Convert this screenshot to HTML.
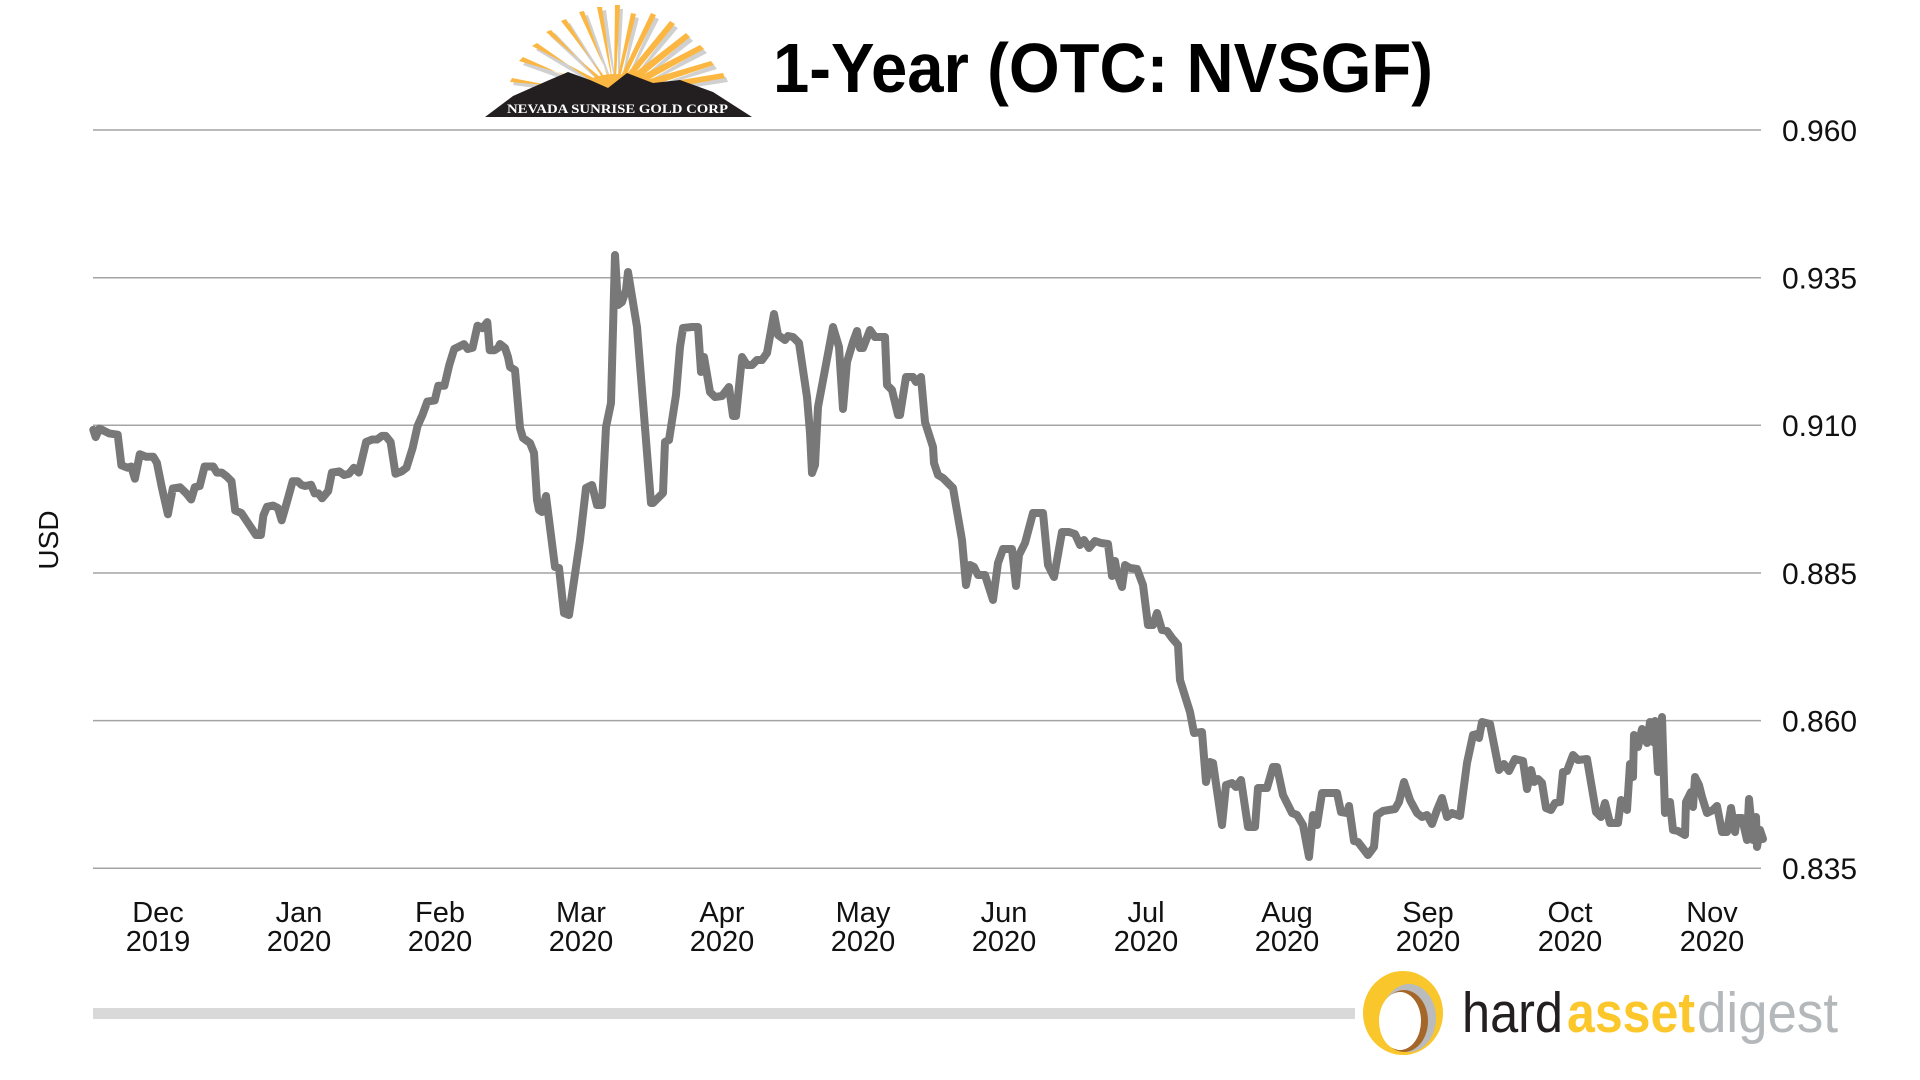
<!DOCTYPE html>
<html>
<head>
<meta charset="utf-8">
<style>
  html,body{margin:0;padding:0;background:#fff;}
  body{width:1920px;height:1080px;overflow:hidden;}
  svg{display:block;}
  text{font-family:"Liberation Sans", Arial, sans-serif;}
</style>
</head>
<body>
<svg width="1920" height="1080" viewBox="0 0 1920 1080" xmlns="http://www.w3.org/2000/svg">
  <rect width="1920" height="1080" fill="#fff"/>

  <!-- Nevada Sunrise logo -->
  <g>
    <g fill="#d0d0d0" transform="translate(3,3)">
      <polygon points="615,96 510,82 512,76"/>
      <polygon points="615,96 520,62 524,57"/>
      <polygon points="615,96 533,47 538,43"/>
      <polygon points="615,96 547,33 552,30"/>
      <polygon points="615,96 562,22 567,20"/>
      <polygon points="615,96 580,13 585,12"/>
      <polygon points="615,96 598,8 603,7"/>
      <polygon points="615,96 615,6 620,6"/>
      <polygon points="615,96 631,14 636,15"/>
      <polygon points="615,96 651,14 656,16"/>
      <polygon points="615,96 670,22 675,25"/>
      <polygon points="615,96 686,34 690,38"/>
      <polygon points="615,96 700,46 704,50"/>
      <polygon points="615,96 711,62 714,66"/>
      <polygon points="615,96 723,74 725,79"/>
    </g>
    <g fill="#fbb741">
      <polygon points="615,98 606,90 510,82 512,78"/>
      <polygon points="615,98 605,86 519,61 523,57"/>
      <polygon points="615,98 605,84 532,46 537,43"/>
      <polygon points="615,98 606,82 546,32 551,30"/>
      <polygon points="615,98 608,81 561,21 566,19"/>
      <polygon points="615,98 610,80 579,12 584,11"/>
      <polygon points="615,98 612,80 597,7 602,7"/>
      <polygon points="615,98 614,80 615,5 620,5"/>
      <polygon points="615,98 617,80 631,13 636,14"/>
      <polygon points="615,98 619,80 651,13 656,15"/>
      <polygon points="615,98 621,81 670,21 675,24"/>
      <polygon points="615,98 623,82 686,33 690,37"/>
      <polygon points="615,98 625,84 700,45 704,49"/>
      <polygon points="615,98 626,86 711,61 714,65"/>
      <polygon points="615,98 626,89 723,73 725,78"/>
      <ellipse cx="615" cy="88" rx="32" ry="14"/>
    </g>
    <path d="M485,117 L513,96 L547,81 L568,72 L590,80 L608,88 L627,73 L653,83 L680,80 L713,92 L752,117 Z" fill="#231f20"/>
    <text x="507" y="113" font-size="13" font-weight="bold" fill="#fff" textLength="221" lengthAdjust="spacingAndGlyphs" style="font-family:'Liberation Serif', serif;">NEVADA SUNRISE GOLD CORP</text>
  </g>

  <!-- Title -->
  <text x="773" y="92" font-size="70" font-weight="bold" fill="#000" textLength="660" lengthAdjust="spacingAndGlyphs">1-Year (OTC: NVSGF)</text>

  <!-- Gridlines -->
  <g stroke="#a4a4a4" stroke-width="1.5">
    <line x1="93" y1="130" x2="1761" y2="130"/>
    <line x1="93" y1="277.7" x2="1761" y2="277.7"/>
    <line x1="93" y1="425.3" x2="1761" y2="425.3"/>
    <line x1="93" y1="573" x2="1761" y2="573"/>
    <line x1="93" y1="720.6" x2="1761" y2="720.6"/>
    <line x1="93" y1="868.3" x2="1761" y2="868.3"/>
  </g>

  <!-- Y labels -->
  <g font-size="30" fill="#111">
    <text x="1782" y="141">0.960</text>
    <text x="1782" y="288.5">0.935</text>
    <text x="1782" y="436">0.910</text>
    <text x="1782" y="584">0.885</text>
    <text x="1782" y="731.5">0.860</text>
    <text x="1782" y="879">0.835</text>
  </g>

  <!-- USD -->
  <text x="0" y="0" font-size="28" fill="#111" text-anchor="middle" transform="translate(58,540) rotate(-90)">USD</text>

  <!-- X labels -->
  <g font-size="29" fill="#111" text-anchor="middle">
    <text x="158" y="922">Dec</text><text x="158" y="951">2019</text>
    <text x="299" y="922">Jan</text><text x="299" y="951">2020</text>
    <text x="440" y="922">Feb</text><text x="440" y="951">2020</text>
    <text x="581" y="922">Mar</text><text x="581" y="951">2020</text>
    <text x="722" y="922">Apr</text><text x="722" y="951">2020</text>
    <text x="863" y="922">May</text><text x="863" y="951">2020</text>
    <text x="1004" y="922">Jun</text><text x="1004" y="951">2020</text>
    <text x="1146" y="922">Jul</text><text x="1146" y="951">2020</text>
    <text x="1287" y="922">Aug</text><text x="1287" y="951">2020</text>
    <text x="1428" y="922">Sep</text><text x="1428" y="951">2020</text>
    <text x="1570" y="922">Oct</text><text x="1570" y="951">2020</text>
    <text x="1712" y="922">Nov</text><text x="1712" y="951">2020</text>
  </g>

  <!-- Price line -->
  <polyline fill="none" stroke="#787878" stroke-width="8" stroke-linejoin="round" stroke-linecap="round" points="
93.3,429.8 95.7,437.1 99.4,428.5 109.2,433.4 117.7,434.7 121.4,465.3 127.5,467.7 131.2,466.5 134.9,478.7 139.8,454.2
145.9,456.7 153.2,456.7 156.9,462.8 161.8,487.3 167.9,514.2 172.8,488.5 180.1,487.3 186.3,493.4 191.2,499.5 194.8,487.3
199.7,486 204.6,466.5 213.2,466.5 216.9,472.6 221.7,472.6 226.6,476.3 231.5,481.2 235.2,510.5 241.3,513 246.2,520.3
256,535 260.9,535 263.4,515.4 267,506.8 273.1,505.6 278,508.1 281.7,520.3 286.6,503.2 292.7,481.2 297.6,481.2
301.3,484.8 305,486 311.1,484.8 314.7,493.4 318.4,493.4 322.1,498.3 328.2,491 331.9,472.6 339.2,471.4 344.1,475
349,473.8 353.9,467.7 358.8,472.6 366.1,442 372.3,439.5 377.1,439.5 382,435.9 385.7,435.9 390.6,442 395.5,473.8
401.6,471.4 406.5,467.7 412.6,448.1 417.5,426.1 422.4,415.1 427.3,401.6 434.7,400.4 438.3,385.7 444.4,385.7 449.3,364.9
454.2,349 459.1,346.6 464,344.1 467.7,349 472.6,347.8 477.5,325.7 482.4,328.2 487.3,322.1 489.7,350.2 494.6,350.2
498.3,347.8 500,344 505,348 508,357 510,367 515,370 520,428 523,438 530,443 534,453 537,500 539,510 542,512 546,496
555,567 559,568 564,613 569,615 580,540 586,488 592,485 597,505 602,505 606,427 611,403 615,255 618,305 622,302
626,290 628,272 637,327 651,503 653,503 663,493 665,442 669,440 676,395 680,347 683,328 692,327 698,327 701,372
704,357 710,392 715,397 722,396 729,387 733,416 736,416 742,357 747,365 752,365 757,360 762,360 767,353 774,314
778,335 785,340 788,336 793,337 799,343 807,397 810,433 812,473 815,465 818,407 833,327 839,347 843,409 847,362
853,342 857,331 860,348 863,348 870,330 875,337 885,337 887,385 892,390 898,415 900,415 906,377 913,377 916,382
921,377 925,422 933,447 934,463 938,475 943,478 953,488 962,540 966,585 970,565 974,567 978,575 985,575 993,600
998,563 1003,549 1012,549 1016,586 1019,555 1025,543 1033,513 1043,513 1048,565 1054,577 1062,532 1069,532 1075,534
1080,545 1084,540 1089,548 1095,541 1101,543 1108,544 1112,576 1115,561 1117,573 1122,587 1125,565 1130,568 1137,569
1143,585 1148,625 1153,625 1157,613 1162,630 1167,631 1172,638 1178,645 1180,680 1190,712 1194,733 1202,732 1206,782
1210,762 1213,763 1222,825 1226,785 1232,783 1236,787 1241,780 1248,827 1255,827 1258,788 1267,788 1273,767 1277,767
1283,795 1292,813 1297,815 1303,825 1309,857 1313,815 1317,825 1322,793 1337,793 1341,812 1347,813 1349,806 1354,841
1358,842 1368,855 1374,847 1377,815 1383,811 1395,809 1399,802 1404,782 1410,800 1417,813 1422,817 1427,815 1432,824
1437,810 1442,798 1447,817 1452,813 1460,816 1467,763 1473,735 1477,734 1479,738 1482,722 1490,724 1499,770 1504,764
1509,771 1515,759 1523,761 1527,789 1531,770 1534,782 1538,779 1542,783 1546,808 1551,810 1555,803 1560,802 1563,772
1567,771 1573,755 1578,760 1587,759 1596,812 1601,817 1605,803 1610,823 1618,823 1621,800 1627,810 1630,764 1633,777
1634,735 1638,747 1642,729 1647,743 1650,722 1653,742 1655,721 1658,772 1662,717 1665,813 1670,802 1673,830 1678,831
1685,835 1686,802 1691,792 1693,807 1695,777 1699,785 1702,797 1707,813 1713,810 1717,806 1722,832 1727,832 1731,808
1735,832 1737,818 1742,818 1747,840 1749,799 1753,840 1756,817 1757,847 1760,830 1763,839"/>

  <!-- Bottom bar -->
  <rect x="93" y="1008" width="1262" height="11" fill="#d9d9d9"/>

  <!-- hardassetdigest logo -->
  <ellipse cx="1403" cy="1013" rx="40" ry="42" fill="#f9c62b"/>
  <ellipse cx="1409" cy="1018" rx="27" ry="34" fill="#b9bbbd"/>
  <ellipse cx="1404" cy="1021" rx="24" ry="31" fill="#a5662a"/>
  <ellipse cx="1400" cy="1021" rx="21" ry="29" fill="#ffffff"/>

  <text x="1462" y="1032" font-size="57" fill="#231f20" textLength="101" lengthAdjust="spacingAndGlyphs">hard</text>
  <text x="1567" y="1032" font-size="57" font-weight="bold" fill="#fcc72a" textLength="128" lengthAdjust="spacingAndGlyphs">asset</text>
  <text x="1697" y="1032" font-size="57" fill="#b5b8bb" textLength="141" lengthAdjust="spacingAndGlyphs">digest</text>
</svg>
</body>
</html>
